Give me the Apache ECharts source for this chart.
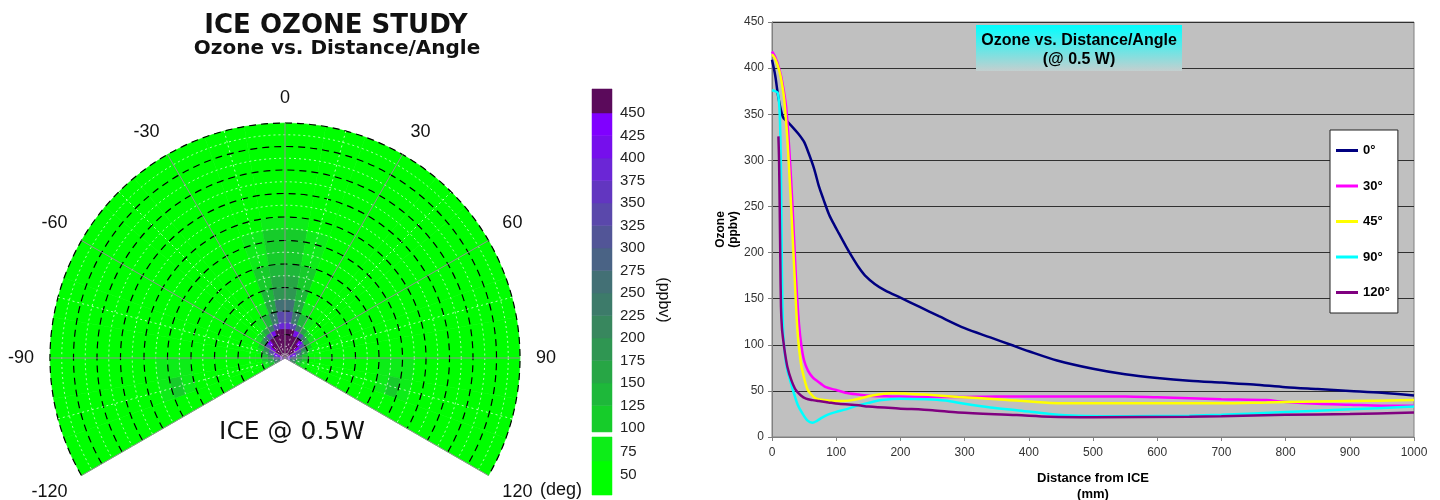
<!DOCTYPE html>
<html><head><meta charset="utf-8">
<script src="https://cdn.jsdelivr.net/npm/echarts@6/dist/echarts.min.js"></script>
<style>html,body{margin:0;padding:0;background:#fff}#c{width:1440px;height:500px}</style>
</head><body><div id="c"></div>
<script>
// ---------------- Line chart data (distance mm, ozone ppbv) ----------------
const dist0 = [0,5,10,17,24,32,42,50,58,66,73,80,89,97,104,115,125,135,145,160,176,200,230,260,300,340,372,400,444,500,550,600,650,700,750,800,850,900,950,1000];
const ozone0 = [409,392,368,347,342,336,328,320,306,290,272,258,241,230,221,207,195,184,175,166,159,151,141,131,118,108,100,93,83,74,68,64,61,59,57,54,52,50,48,45];
const dist30 = [0,5,11,16,22,27,32,37,42,46,50,56,63,70,84,100,114,135,156,187,230,290,350,400,450,500,550,600,650,700,770,800,850,900,950,1000];
const ozone30 = [418,412,400,385,358,311,250,177,123,98,83,72,65,61,54,51,48,46,44.5,44,43.5,43.5,44,44,44,44,44,43,42,41,40,38,36,35,34,34];
const dist45 = [0,5,11,15,19,24,29,35,40,45,50,55,60,68,80,99,125,156,187,210,238,290,350,433,500,600,700,770,800,900,1000];
const ozone45 = [415,410,398,385,366,322,261,177,112,80,64,52,47,42,40,39,40,45,47.5,47,46,43.5,41,37,36.5,36.5,36.5,37.5,38,39,40];
const dist90 = [0,5,9,12,14,15.5,17.5,20,24,28,33,40,47,55,63,70,78,88,99,115,130,150,171,200,240,270,300,340,381,433,475,550,650,700,800,900,1000];
const ozone90 = [376,375,373,351,286,177,112,90,72,62,50,35,26,18,15.5,17.5,21,24.5,27,30,33.5,37,40,41.5,41,39.5,36,32,29,25,23,22.5,23,24,27,30,33];
const dist120 = [10,11,12,13,14,15.5,17.5,20,24,30,37,45,53,63,73,88,104,135,150,197,250,290,381,433,500,650,700,800,900,1000];
const ozone120 = [326,300,250,190,141,118,105,92,76,62,51,45,41.6,40,39,37.5,36,34.4,33,31,29,26.5,23.8,22,21.5,22,22.5,24,25,26.5];
const seriesNames = ['0°','30°','45°','90°','120°'];
const seriesColors = ['#000080','#ff00ff','#ffff00','#00ffff','#800080'];

// ---------------- Polar map data ----------------
const ringEdges = [0,25,50,75,100,125,150,200,250,300,350,400,450,500,550,600,1000];
const angleEdges = [-120,-110,-100,-90,-80,-70,-60,-50,-40,-30,-20,-10,0,10,20,30,40,50,60,70,80,90,100,110,120];
const ozoneByRing = [
 [380,400,420,430,440,450,460,470,470,470,470,470, 470,470,470,470,470,460,450,440,430,420,400,380],
 [220,250,290,340,400,440,460,470,470,470,470,470, 470,470,470,470,470,460,440,400,340,290,250,220],
 [120,140,160,200,260,350,440,460,470,470,470,470, 470,470,470,470,460,440,350,260,200,160,140,120],
 [ 80, 90,100,120,160,220,330,430,455,465,470,470, 470,470,465,455,430,330,220,160,120,100, 90, 80],
 [ 55, 55, 55, 60, 80,110,160,240,340,420,455,470, 470,455,420,340,240,160,110, 80, 60, 55, 55, 55],
 [ 50, 50, 50, 50, 50, 55, 70,110,170,230,340,400, 400,340,230,170,110, 70, 55, 50, 50, 50, 50, 50],
 [ 50, 50, 50, 50, 50, 50, 50, 60, 80,130,250,330, 330,250,130, 80, 60, 50, 50, 50, 50, 50, 50, 50],
 [ 50, 50, 50, 50, 50, 50, 50, 50, 55, 80,170,260, 260,170, 80, 55, 50, 50, 50, 50, 50, 50, 50, 50],
 [ 50, 50, 50, 50, 50, 50, 50, 50, 50, 60,130,200, 200,130, 60, 50, 50, 50, 50, 50, 50, 50, 50, 50],
 [ 50, 50, 50, 50, 50, 50, 50, 50, 50, 50,110,165, 165,110, 50, 50, 50, 50, 50, 50, 50, 50, 50, 50],
 [ 50, 50, 50, 50, 50, 50, 50, 50, 50, 50,100,140, 140,100, 50, 50, 50, 50, 50, 50, 50, 50, 50, 50],
 [ 55, 90, 85, 50, 50, 50, 50, 50, 50, 50, 90,125, 125, 90, 50, 50, 50, 50, 50, 50, 50, 85, 90, 55],
 [ 60,100, 95, 55, 50, 50, 50, 50, 50, 50, 80,110, 110, 80, 50, 50, 50, 50, 50, 50, 55, 95,100, 60],
 [ 50, 80, 75, 50, 50, 50, 50, 50, 50, 50, 70,100, 100, 70, 50, 50, 50, 50, 50, 50, 50, 75, 80, 50],
 [ 50, 50, 50, 50, 50, 50, 50, 50, 50, 50, 50, 85,  85, 50, 50, 50, 50, 50, 50, 50, 50, 50, 50, 50],
 [ 50, 50, 50, 50, 50, 50, 50, 50, 50, 50, 50, 50,  50, 50, 50, 50, 50, 50, 50, 50, 50, 50, 50, 50]
];
// colour scale (ppbv)
const pieceEdges = [0,65,95,125,150,175,200,225,250,275,300,325,350,375,400,425,450,1000];
const pieceColors = ['#00ff00','#0ded18','#16cc2a','#1eb83a','#27a645','#2f9652','#38875e','#3d7b6a','#437075','#4a6385','#525597','#5a48ab','#6236c0','#6b26d6','#760fec','#8000ff','#5b0a5b'];
const cbMainRange = [95.6, 476.7];
const cbLowRange = [28.5, 90.8];
const cbMainTicks = [100,450];
const cbLowTicks = [50,75];

// ---------------- build ----------------
const heatData = [];
for (let i = 0; i < ringEdges.length - 1; i++)
  for (let j = 0; j < angleEdges.length - 1; j++)
    heatData.push([ringEdges[i], ringEdges[i+1], angleEdges[j], angleEdges[j+1], ozoneByRing[i][j]]);

function cbPieces(range){
  const out = [];
  for (let k = 0; k < pieceColors.length; k++) {
    const lo = Math.max(pieceEdges[k], range[0]), hi = Math.min(pieceEdges[k+1], range[1]);
    if (hi > lo) out.push([lo, hi, k]);
  }
  return out;
}
function zipXY(xs, ys){ return xs.map((x,i)=>[x, ys[i]]); }
const lineSets = [[dist0,ozone0],[dist30,ozone30],[dist45,ozone45],[dist90,ozone90],[dist120,ozone120]];

const chart = echarts.init(document.getElementById('c'));
const RF = "'Liberation Sans', Arial, sans-serif";

function cbRender(params, api){
  const p1 = api.coord([0, api.value(1)]);
  const p2 = api.coord([1, api.value(0)]);
  return {type:'rect', shape:{x:p1[0], y:p1[1], width:p2[0]-p1[0], height:p2[1]-p1[1]},
    style:{fill: pieceColors[api.value(2)], stroke: pieceColors[api.value(2)], lineWidth:0.5}};
}

const option = {
  animation: false,
  backgroundColor: '#ffffff',
  polar: { center: [285, 358], radius: 235 },
  angleAxis: {
    type: 'value', min: -120, max: 120, interval: 30,
    startAngle: 210, endAngle: -30, clockwise: true, z: 5,
    axisLine: {show: false}, axisTick: {show: false},
    axisLabel: {fontSize: 18, color: '#111', margin: 16, fontFamily: RF},
    splitLine: {show: true, lineStyle: {color: '#909090', width: 1}},
    minorTick: {show: false, splitNumber: 2},
    minorSplitLine: {show: true, lineStyle: {color: '#ffffff', width: 1, type: [2,3], opacity: 0.7}}
  },
  radiusAxis: {
    type: 'value', min: 0, max: 1000, interval: 100, z: 5,
    axisLine: {show: false}, axisTick: {show: false}, axisLabel: {show: false},
    splitLine: {show: true, lineStyle: {color: '#000', width: 1.2, type: [7,5]}},
    minorTick: {show: false, splitNumber: 2},
    minorSplitLine: {show: true, lineStyle: {color: '#ffffff', width: 1, type: [2,3], opacity: 0.7}}
  },
  grid: [
    {left: 772, right: 26, top: 22, bottom: 63, outerBoundsMode: 'none', containLabel: false, show: true, backgroundColor: '#c0c0c0', borderColor: '#808080', borderWidth: 1},
    {left: 592, width: 20, top: 113, height: 315, outerBoundsMode: 'none', containLabel: false},
    {left: 592, width: 20, top: 451.7, height: 23.3, outerBoundsMode: 'none', containLabel: false}
  ],
  xAxis: [
    {gridIndex: 0, type: 'value', min: 0, max: 1000, interval: 100,
     name: 'Distance from ICE\n(mm)', nameLocation: 'middle', nameGap: 33,
     nameTextStyle: {fontWeight: 'bold', fontSize: 13, lineHeight: 16, color: '#000', fontFamily: RF},
     axisLine: {lineStyle: {color: '#808080'}}, axisTick: {length: 4, lineStyle: {color: '#808080'}},
     axisLabel: {fontSize: 12, color: '#333', margin: 10, fontFamily: RF, formatter: v => String(v)},
     splitLine: {show: false}},
    {gridIndex: 1, type: 'value', min: 0, max: 1, show: false},
    {gridIndex: 2, type: 'value', min: 0, max: 1, show: false}
  ],
  yAxis: [
    {gridIndex: 0, type: 'value', min: 0, max: 450, interval: 50,
     name: 'Ozone\n(ppbv)', nameLocation: 'middle', nameGap: 31, nameRotate: 90,
     nameTextStyle: {fontWeight: 'bold', fontSize: 12, lineHeight: 13, color: '#000', fontFamily: RF},
     axisLine: {show: true, lineStyle: {color: '#808080'}}, axisTick: {show: true, length: 4, lineStyle: {color: '#808080'}},
     axisLabel: {fontSize: 12, color: '#333', margin: 8, fontFamily: RF},
     splitLine: {show: true, lineStyle: {color: '#303030', width: 1}}},
    {gridIndex: 1, type: 'value', min: cbMainTicks[0], max: cbMainTicks[1], interval: 25, position: 'right',
     axisLine: {show: false}, axisTick: {show: false}, splitLine: {show: false},
     axisLabel: {fontSize: 15, color: '#222', margin: 8, fontFamily: RF}},
    {gridIndex: 2, type: 'value', min: cbLowTicks[0], max: cbLowTicks[1], interval: 25, position: 'right',
     axisLine: {show: false}, axisTick: {show: false}, splitLine: {show: false},
     axisLabel: {fontSize: 15, color: '#222', margin: 8, fontFamily: RF}}
  ],
  visualMap: {
    type: 'piecewise', show: false, seriesIndex: 0, dimension: 4,
    pieces: pieceColors.map((c, k) => ({min: pieceEdges[k], max: pieceEdges[k+1], color: c}))
  },
  legend: {
    data: seriesNames, orient: 'vertical', left: 1330, top: 130,
    backgroundColor: '#fff', borderColor: '#222', borderWidth: 1,
    padding: [14, 8, 14, 6], itemGap: 22.5, itemWidth: 22, itemHeight: 3, icon: 'rect',
    textStyle: {fontWeight: 'bold', fontSize: 13, color: '#000', fontFamily: RF}
  },
  series: [
    {type: 'custom', coordinateSystem: 'polar', z: 1, data: heatData,
     encode: {radius: 0, angle: 2},
     renderItem: function(params, api){
       const cs = params.coordSys; const cx = cs.cx, cy = cs.cy;
       const pA = api.coord([api.value(1), api.value(2)]);
       const pB = api.coord([api.value(1), api.value(3)]);
       const pI = api.coord([api.value(0), api.value(2)]);
       const R = Math.hypot(pA[0]-cx, pA[1]-cy), R0 = Math.hypot(pI[0]-cx, pI[1]-cy);
       let s = Math.atan2(pA[1]-cy, pA[0]-cx), e = Math.atan2(pB[1]-cy, pB[0]-cx);
       if (e < s) e += 2*Math.PI;
       const col = api.visual('color');
       return {type: 'sector', shape: {cx: cx, cy: cy, r0: R0, r: R, startAngle: s, endAngle: e, clockwise: true},
               style: {fill: col, stroke: col, lineWidth: 0.6}};
     }},
    {type: 'custom', xAxisIndex: 1, yAxisIndex: 1, clip: false, data: cbPieces(cbMainRange), renderItem: cbRender},
    {type: 'custom', xAxisIndex: 2, yAxisIndex: 2, clip: false, data: cbPieces(cbLowRange), renderItem: cbRender}
  ].concat(lineSets.map((s, i) => ({
    type: 'line', name: seriesNames[i], xAxisIndex: 0, yAxisIndex: 0,
    data: zipXY(s[0], s[1]), showSymbol: false, smooth: 0.3,
    lineStyle: {color: seriesColors[i], width: 2.5}, itemStyle: {color: seriesColors[i]}, z: 3 + i
  }))),
  graphic: [
    {type: 'text', x: 336, y: 26, style: {text: 'ICE OZONE STUDY', fill: '#111', font: "bold 26px 'DejaVu Sans', sans-serif", textAlign: 'center', textVerticalAlign: 'middle'}},
    {type: 'text', x: 337, y: 49, style: {text: 'Ozone vs. Distance/Angle', fill: '#111', font: "bold 20px 'DejaVu Sans', sans-serif", textAlign: 'center', textVerticalAlign: 'middle'}},
    {type: 'text', x: 292, y: 432, style: {text: 'ICE @ 0.5W', fill: '#111', font: "25px 'DejaVu Sans', sans-serif", textAlign: 'center', textVerticalAlign: 'middle'}},
    {type: 'text', x: 540, y: 490, style: {text: '(deg)', fill: '#111', font: "18px 'Liberation Sans', Arial, sans-serif", textAlign: 'left', textVerticalAlign: 'middle'}},
    {type: 'text', x: 663, y: 300, rotation: -Math.PI/2, style: {text: '(ppbv)', fill: '#111', font: "16px 'Liberation Sans', Arial, sans-serif", textAlign: 'center', textVerticalAlign: 'middle'}},
    {type: 'rect', z: 20, shape: {x: 976, y: 25, width: 206, height: 46},
     style: {fill: new echarts.graphic.LinearGradient(0, 0, 0, 1, [{offset: 0, color: '#00ffff'}, {offset: 1, color: '#c4cfcf'}])}},
    {type: 'text', z: 21, x: 1079, y: 41, style: {text: 'Ozone vs. Distance/Angle', fill: '#000', font: "bold 16px 'Liberation Sans Narrow', 'Liberation Sans', Arial, sans-serif", textAlign: 'center', textVerticalAlign: 'middle'}},
    {type: 'text', z: 21, x: 1079, y: 60, style: {text: '(@ 0.5 W)', fill: '#000', font: "bold 16px 'Liberation Sans Narrow', 'Liberation Sans', Arial, sans-serif", textAlign: 'center', textVerticalAlign: 'middle'}}
  ]
};
chart.setOption(option);
</script></body></html>
